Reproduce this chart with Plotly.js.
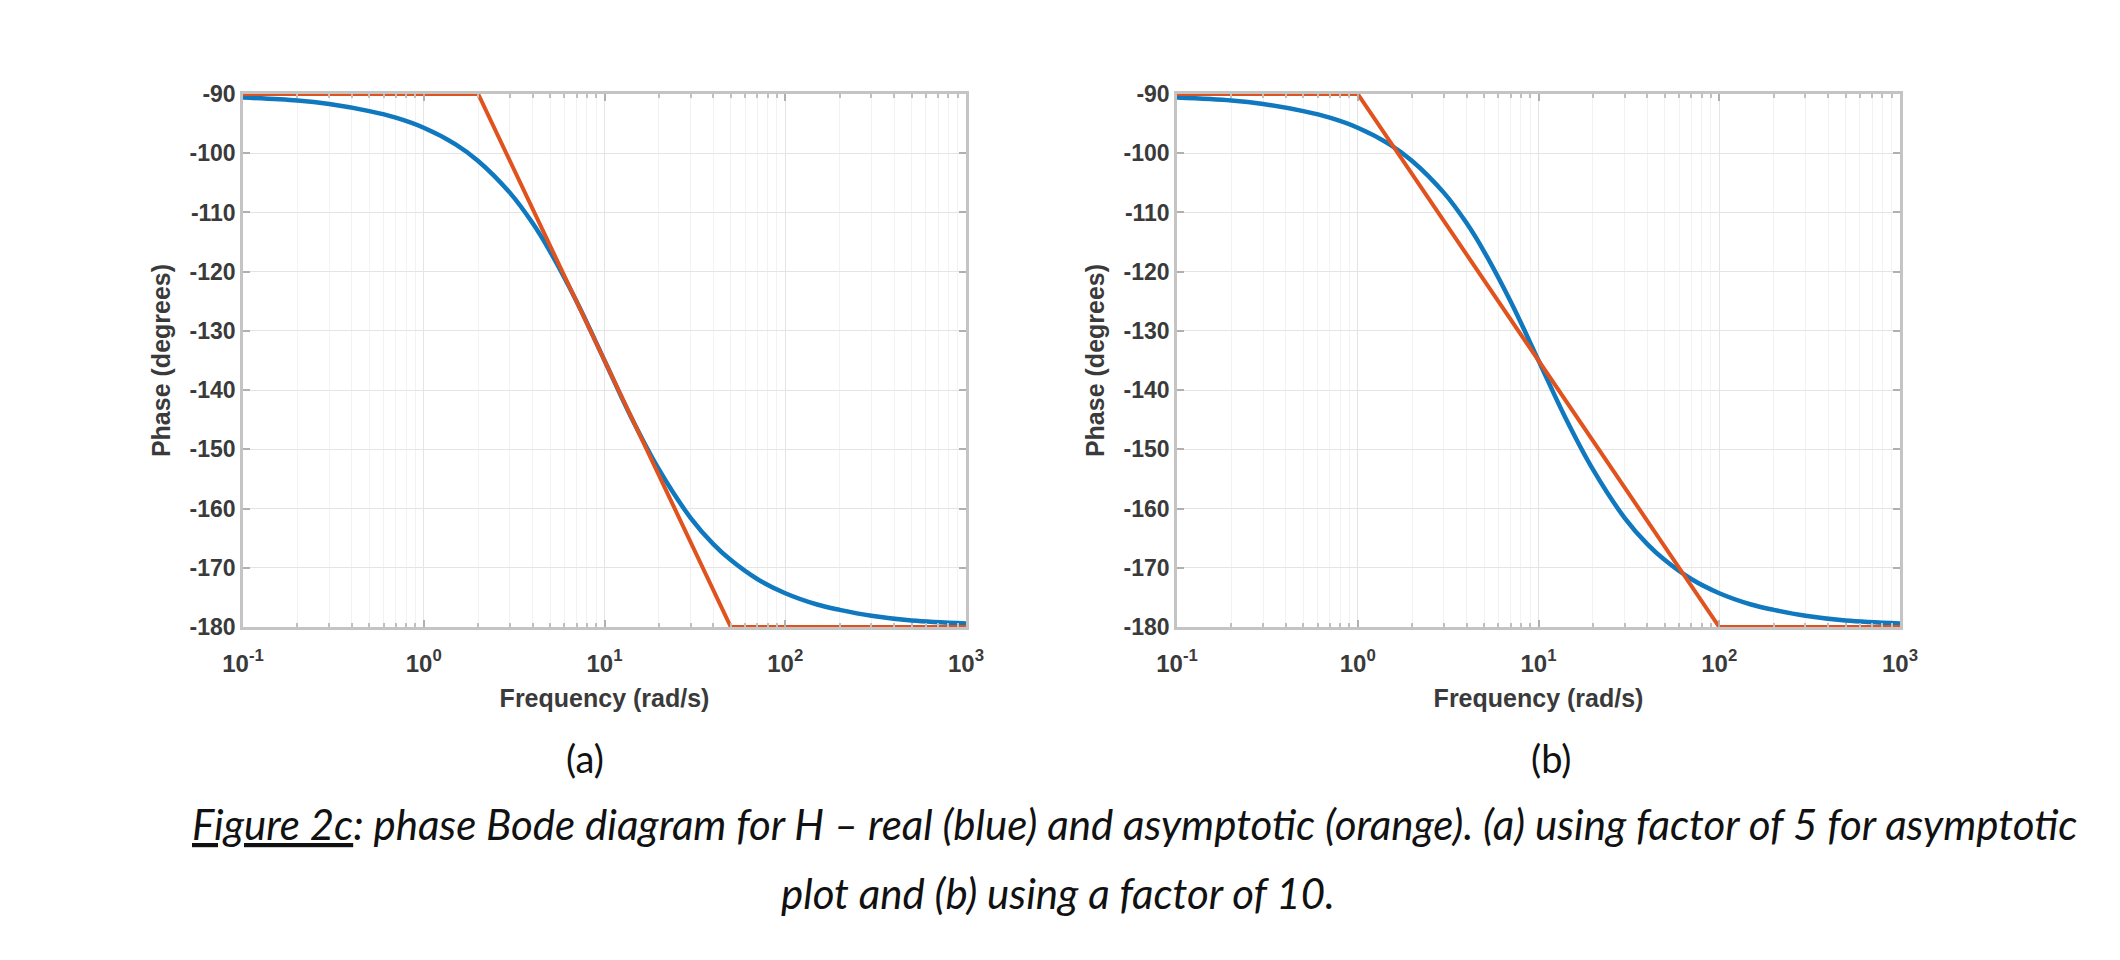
<!DOCTYPE html>
<html>
<head>
<meta charset="utf-8">
<script src="https://cdn.plot.ly/plotly-3.0.1.min.js"></script>
<style>
  html, body { margin: 0; padding: 0; background: #ffffff; }
  #chart { width: 2120px; height: 960px; }
</style>
</head>
<body>
<div id="chart"></div>
<script>
// ---- Data ----
// Real phase curve (blue), same in both panels
var freqReal  = [0.1, 0.2, 0.3, 0.5, 0.7, 1, 1.5, 2, 3, 4, 5, 7, 10, 14, 20, 30, 40, 50, 70, 100, 150, 200, 300, 500, 1000];
var phaseReal = [-90.6, -91.1, -91.7, -92.9, -94.0, -95.7, -98.5, -101.3, -106.7, -111.8, -116.6, -125.0, -135.0, -144.5, -153.4, -161.6, -166.0, -168.7, -171.9, -174.3, -176.2, -177.1, -178.1, -178.9, -179.4];

// Asymptotic phase (orange), panel (a): factor of 5
var asymFreqA  = [0.1, 2, 50, 1000];
var asymPhaseA = [-90, -90, -180, -180];

// Asymptotic phase (orange), panel (b): factor of 10
var asymFreqB  = [0.1, 1, 100, 1000];
var asymPhaseB = [-90, -90, -180, -180];

// Tick labels
var xTickVals = [0.1, 1, 10, 100, 1000];
var xTickText = ["10<sup>-1</sup>", "10<sup>0</sup>", "10<sup>1</sup>", "10<sup>2</sup>", "10<sup>3</sup>"];
var yTickVals = [-180, -170, -160, -150, -140, -130, -120, -110, -100, -90];
var yTickText = ["-180", "-170", "-160", "-150", "-140", "-130", "-120", "-110", "-100", "-90"];

var xTitle = "Frequency (rad/s)";
var yTitle = "Phase (degrees)";
var panelLabels = ["(a)", "(b)"];
var captionLine1 = "<i><u>Figure 2c</u>: phase Bode diagram for H \u2013 real (blue) and asymptotic (orange). (a) using factor of 5 for asymptotic</i>";
var captionLine2 = "<i>plot and (b) using a factor of 10.</i>";

// ---- Styling ----
var BLUE = "#0f78be";
var ORANGE = "#e0531e";
var W = 2120, H = 960;

function px(x) { return x / W; }
function py(y) { return 1 - y / H; }

var traces = [
  {x: freqReal, y: phaseReal, xaxis: "x", yaxis: "y", mode: "lines", line: {color: BLUE, width: 4.5, shape: "spline"}, hoverinfo: "x+y"},
  {x: asymFreqA, y: asymPhaseA, xaxis: "x", yaxis: "y", mode: "lines", line: {color: ORANGE, width: 4}, hoverinfo: "x+y"},
  {x: freqReal, y: phaseReal, xaxis: "x2", yaxis: "y2", mode: "lines", line: {color: BLUE, width: 4.5, shape: "spline"}, hoverinfo: "x+y"},
  {x: asymFreqB, y: asymPhaseB, xaxis: "x2", yaxis: "y2", mode: "lines", line: {color: ORANGE, width: 4}, hoverinfo: "x+y"}
];

var tickFont = {family: "Liberation Sans, Arial, sans-serif", size: 23, color: "#3a3a3a", weight: "bold"};
var xTickFont = {family: "Liberation Sans, Arial, sans-serif", size: 24, color: "#3a3a3a", weight: "bold"};
var titleFont = {family: "Liberation Sans, Arial, sans-serif", size: 25, color: "#3a3a3a", weight: "bold"};
var AXCOL = "#c4c4c4";

function xAxis(domain, anchor) {
  return {
    type: "log",
    domain: domain,
    anchor: anchor,
    range: [-1, 3],
    tickvals: xTickVals,
    ticktext: xTickText,
    tickfont: xTickFont,
    ticklabelstandoff: 13,
    ticks: "inside",
    ticklen: 7,
    tickwidth: 1.5,
    tickcolor: "#b0b0b0",
    showline: true,
    linecolor: AXCOL,
    linewidth: 2.5,
    mirror: "allticks",
    showgrid: true,
    gridcolor: "#e4e4e4",
    gridwidth: 1.2,
    zeroline: false,
    minor: {dtick: "D1", ticks: "inside", ticklen: 4, tickcolor: "#c0c0c0", showgrid: true, gridcolor: "#f2f2f2", gridwidth: 1},
    title: {text: xTitle, font: titleFont, standoff: 14},
    automargin: false,
    fixedrange: true
  };
}
function yAxis(domain, anchor) {
  return {
    domain: domain,
    anchor: anchor,
    range: [-180, -90],
    tickvals: yTickVals,
    ticktext: yTickText,
    tickfont: tickFont,
    ticks: "inside",
    ticklen: 7,
    tickwidth: 1.5,
    tickcolor: "#b0b0b0",
    showline: true,
    linecolor: AXCOL,
    linewidth: 2.5,
    mirror: "allticks",
    showgrid: true,
    gridcolor: "#e4e4e4",
    gridwidth: 1.2,
    zeroline: false,
    title: {text: yTitle, font: titleFont, standoff: 12},
    automargin: false,
    fixedrange: true
  };
}

var yDom = [py(627), py(94)];
var capFont = {family: "Lato, Open Sans, sans-serif", size: 42, color: "#111111"};
var layout = {
  width: W,
  height: H,
  margin: {l: 0, r: 0, t: 0, b: 0},
  paper_bgcolor: "#ffffff",
  plot_bgcolor: "#ffffff",
  showlegend: false,
  xaxis: xAxis([px(243), px(966)], "y"),
  yaxis: yAxis(yDom, "x"),
  xaxis2: xAxis([px(1177), px(1900)], "y2"),
  yaxis2: yAxis(yDom, "x2"),
  annotations: [
    {xref: "paper", yref: "paper", x: px(585), y: py(758), xanchor: "center", yanchor: "middle", showarrow: false,
     text: panelLabels[0], font: {family: "Lato, Open Sans, sans-serif", size: 38, color: "#111111"}},
    {xref: "paper", yref: "paper", x: px(1551), y: py(758), xanchor: "center", yanchor: "middle", showarrow: false,
     text: panelLabels[1], font: {family: "Lato, Open Sans, sans-serif", size: 38, color: "#111111"}},
    {xref: "paper", yref: "paper", x: px(1134), y: py(824), xanchor: "center", yanchor: "middle", showarrow: false,
     text: captionLine1, font: capFont},
    {xref: "paper", yref: "paper", x: px(1058), y: py(893), xanchor: "center", yanchor: "middle", showarrow: false,
     text: captionLine2, font: capFont}
  ]
};

Plotly.newPlot("chart", traces, layout, {displayModeBar: false, staticPlot: false});
</script>
</body>
</html>
